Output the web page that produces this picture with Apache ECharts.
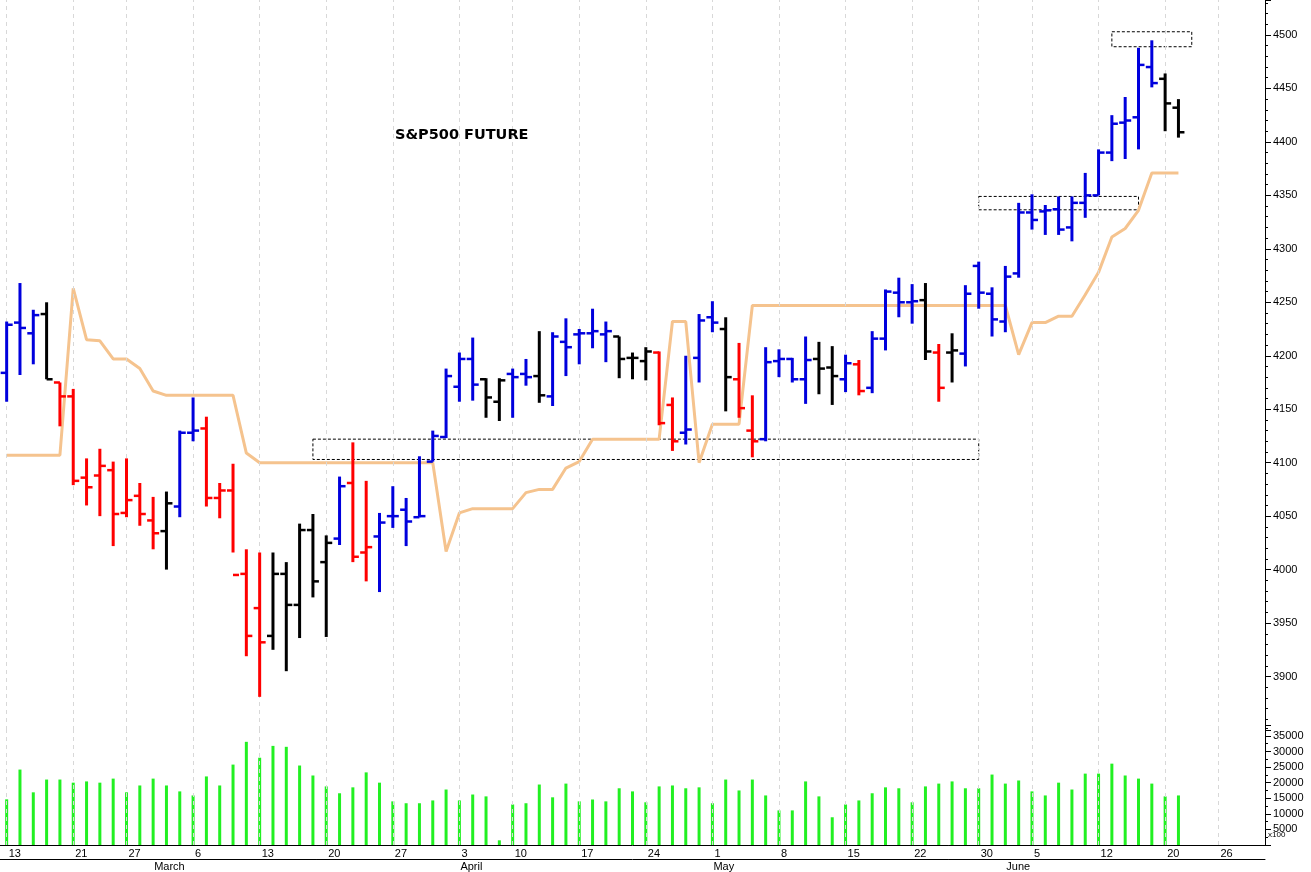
<!DOCTYPE html>
<html><head><meta charset="utf-8">
<script src="https://cdn.jsdelivr.net/npm/echarts@6/dist/echarts.min.js"></script>
<style>html,body{margin:0;padding:0;background:#fff}#c{width:1311px;height:872px}</style>
</head><body><div id="c"></div>
<script>
const dates = ['02-13','02-14','02-15','02-16','02-17','02-21','02-22','02-23','02-24',
'02-27','02-28','03-01','03-02','03-03','03-06','03-07','03-08','03-09','03-10',
'03-13','03-14','03-15','03-16','03-17','03-20','03-21','03-22','03-23','03-24',
'03-27','03-28','03-29','03-30','03-31','04-03','04-04','04-05','04-06',
'04-10','04-11','04-12','04-13','04-14','04-17','04-18','04-19','04-20','04-21',
'04-24','04-25','04-26','04-27','04-28','05-01','05-02','05-03','05-04','05-05',
'05-08','05-09','05-10','05-11','05-12','05-15','05-16','05-17','05-18','05-19',
'05-22','05-23','05-24','05-25','05-26','05-30','05-31','06-01','06-02',
'06-05','06-06','06-07','06-08','06-09','06-12','06-13','06-14','06-15','06-16',
'06-20','06-21','06-22','06-23','06-26','06-27','06-28','06-29'];
const dayLabels = {'02-13':'13','02-21':'21','02-27':'27','03-06':'6','03-13':'13','03-20':'20','03-27':'27',
'04-03':'3','04-10':'10','04-17':'17','04-24':'24','05-01':'1','05-08':'8','05-15':'15','05-22':'22',
'05-30':'30','06-05':'5','06-12':'12','06-20':'20','06-26':'26'};
const monthLabels = {'03-01':'March','04-03':'April','05-01':'May','06-01':'June'};
const opens  = [4184,4231,4221,4239,4175,4162,4086,4088,4093,4053,4069,4046,4036,4059,4128,4132,4067,4074,3996,3964,3938,3996,3967,4037,4007,4029,4081,4016,4031,4050,4056,4049,4101,4124,4171,4197,4178,4157,4183,4183,4181,4162,4213,4220,4221,4220,4218,4198,4195,4203,4154,4128,4198,4236,4225,4178,4130,4122,4195,4197,4178,4197,4189,4178,4192,4170,4216,4259,4250,4252,4203,4203,4202,4284,4258,4232,4277,4334,4335,4337,4320,4343,4350,4390,4418,4423,4470,4459,4432];
const highs  = [4232,4268,4243,4250,4175,4169,4104,4113,4101,4104,4081,4068,4073,4130,4161,4143,4081,4099,4019,4016,4016,4007,4043,4052,4032,4087,4119,4083,4053,4078,4067,4106,4130,4188,4203,4217,4179,4179,4188,4197,4223,4222,4235,4225,4244,4232,4218,4203,4208,4204,4161,4200,4239,4251,4236,4212,4163,4208,4206,4198,4218,4213,4209,4201,4196,4223,4262,4273,4267,4268,4211,4221,4266,4288,4264,4284,4343,4351,4341,4349,4349,4371,4393,4425,4442,4488,4495,4464,4440];
const lows   = [4157,4182,4192,4178,4134,4079,4060,4050,4022,4049,4041,4019,4000,4049,4120,4059,4048,4016,3919,3881,3925,3905,3936,3974,3937,4023,4007,3989,3979,4039,4022,4049,4101,4123,4157,4158,4142,4139,4142,4172,4156,4153,4181,4192,4207,4194,4179,4178,4177,4135,4111,4117,4175,4222,4148,4142,4105,4120,4180,4175,4155,4164,4154,4166,4163,4165,4205,4236,4230,4196,4157,4175,4190,4244,4218,4222,4273,4318,4313,4313,4307,4329,4350,4382,4384,4393,4451,4410,4404];
const closes = [4229,4226,4238,4178,4162,4083,4077,4097,4052,4065,4052,4034,4062,4128,4130,4067,4074,3995,3938,3932,3996,3967,4037,3989,4025,4078,4012,4021,4044,4050,4045,4050,4125,4181,4197,4173,4161,4177,4180,4180,4163,4218,4208,4221,4223,4223,4197,4198,4204,4137,4120,4131,4233,4231,4180,4151,4120,4194,4197,4178,4196,4188,4181,4193,4167,4216,4260,4250,4251,4204,4170,4205,4258,4259,4234,4274,4334,4327,4336,4318,4343,4350,4390,4417,4420,4472,4455,4436,4409];
const barColors = ['B','B','B','K','R','R','R','R','R','R','R','R','K','B','B','R','R','R','R','R','K','K','K','K','K',
'B','R','R','B','B','B','B','B','B','B','B','K','K','B','B','K','B','B','B','B','B','K','K','K','R',
'R','B','B','B','K','R','R','B','B','B','B','K','K','B','R','B','B','B','B','K','R','K',
'B','B','B','B','B','B','B','B','B','B','B','B','B','B','B','K','K'];
const stopLine = [4107,4107,4107,4107,4107,4263,4215,4214,4197,4197,4188,4167,4163,4163,4163,4163,4163,4163,4109,4100,4100,4100,4100,4100,4100,4100,4100,4100,4100,4100,4100,4100,4100,4017,4053,4057,4057,4057,4057,4072,4075,4075,4095,4101,4122,4122,4122,4122,4122,4122,4232,4232,4100,4136,4136,4136,4247,4247,4247,4247,4247,4247,4247,4247,4247,4247,4247,4247,4247,4247,4247,4247,4247,4247,4247,4247,4201,4231,4231,4237,4237,4257,4278,4311,4319,4336,4371,4371,4371];
const volumes = [14650,24200,16900,21000,21000,20000,20400,20000,21300,16900,19100,21300,19100,17200,15900,22000,19100,25800,33100,28000,31800,31500,25500,22300,18800,16600,18500,23300,20000,14000,13400,13400,14300,17800,14300,16200,15600,1500,13000,13400,19400,15300,19700,14000,14600,14000,18200,17200,13700,18800,19100,18200,18500,13400,21000,17500,21000,15900,11100,11100,20400,15600,8900,13000,14300,16600,18500,18200,13700,18800,19700,20400,18200,18200,22600,19700,20700,17200,15900,20000,17800,22900,22900,26100,22300,21300,19700,15600,15900];
const boxes = [[23,73,4103,4122],[73,85,4336.5,4349],[83,89,4489,4503]];
const priceTicks = [3900,3950,4000,4050,4100,4150,4200,4250,4300,4350,4400,4450,4500];
const volTicks = [5000,10000,15000,20000,25000,30000,35000];

const colorMap = {B:'#0000dd',R:'#ff0000',K:'#000000'};
const ohlc = opens.map((o,i)=>[i,o,highs[i],lows[i],closes[i]]);
const weekLines = dates.filter(d=>dayLabels[d]).map(d=>({xAxis:d}));
const lbl = {fontFamily:'Liberation Sans, Arial, sans-serif',fontSize:11,color:'#000'};
const gridLine = {silent:true,symbol:'none',label:{show:false},lineStyle:{color:'#d8d8d8',type:[4,4],width:1},data:weekLines};

const chart = echarts.init(document.getElementById('c'));
chart.setOption({
  animation:false,
  backgroundColor:'#fff',
  title:{text:'S&P500 FUTURE',left:390,top:123,textStyle:{fontFamily:'DejaVu Sans',fontWeight:'bold',fontSize:14.5,color:'#000'}},
  grid:[{left:0,right:46,top:0,height:730},{left:0,right:46,top:725,bottom:27}],
  xAxis:[
    {type:'category',gridIndex:0,data:dates,boundaryGap:true,axisLine:{show:false},axisTick:{show:false},axisLabel:{show:false},splitLine:{show:false}},
    {type:'category',gridIndex:1,data:dates,boundaryGap:true,position:'bottom',
     axisLine:{lineStyle:{color:'#000'}},
     axisTick:{alignWithLabel:true,length:12,lineStyle:{color:'#000'},interval:(i,v)=>!!dayLabels[v]},
     axisLabel:Object.assign({},lbl,{align:'left',margin:3,padding:[0,0,0,2],interval:(i,v)=>!!dayLabels[v],formatter:v=>dayLabels[v]||''})},
    {type:'category',gridIndex:1,data:dates,boundaryGap:true,position:'bottom',offset:14,
     axisLine:{lineStyle:{color:'#000'}},
     axisTick:{alignWithLabel:true,length:14,lineStyle:{color:'#000'},interval:(i,v)=>!!monthLabels[v]},
     axisLabel:Object.assign({},lbl,{align:'left',margin:2,padding:[0,0,0,1],interval:(i,v)=>!!monthLabels[v],formatter:v=>monthLabels[v]||''})}
  ],
  yAxis:[
    {type:'value',gridIndex:0,position:'right',min:3850,max:4532.7,interval:50,
     axisLine:{show:true,lineStyle:{color:'#000'}},axisTick:{show:true,length:6,lineStyle:{color:'#000'}},
     minorTick:{show:true,splitNumber:5,length:3,lineStyle:{color:'#000'}},splitLine:{show:false},
     axisLabel:Object.assign({},lbl,{margin:8,formatter:v=>priceTicks.includes(v)?String(v):''})},
    {type:'value',gridIndex:1,position:'right',min:0,max:38500,interval:5000,
     axisLine:{show:true,lineStyle:{color:'#000'}},axisTick:{show:true,length:6,lineStyle:{color:'#000'}},
     minorTick:{show:true,splitNumber:2,length:3,lineStyle:{color:'#000'}},splitLine:{show:false},
     axisLabel:Object.assign({},lbl,{margin:8,formatter:v=>volTicks.includes(v)?String(v):''})}
  ],
  series:[
    {type:'line',xAxisIndex:0,yAxisIndex:0,data:[],z:0,markLine:gridLine},
    {type:'line',xAxisIndex:1,yAxisIndex:1,data:[],z:0,markLine:gridLine},
    {type:'line',xAxisIndex:0,yAxisIndex:0,data:stopLine,showSymbol:false,symbol:'none',
     lineStyle:{color:'#f5c38e',width:3},z:2},
    {type:'custom',xAxisIndex:0,yAxisIndex:0,data:ohlc,encode:{x:0,y:[1,2,3,4]},z:5,
     renderItem:(params,api)=>{
       const i=api.value(0);
       const x=api.coord([i,api.value(2)])[0];
       const yH=api.coord([i,api.value(2)])[1],yL=api.coord([i,api.value(3)])[1];
       const yO=api.coord([i,api.value(1)])[1],yC=api.coord([i,api.value(4)])[1];
       const c=colorMap[barColors[i]];
       return {type:'group',children:[
         {type:'line',shape:{x1:x,y1:yH,x2:x,y2:yL},style:{stroke:c,lineWidth:3}},
         {type:'line',shape:{x1:x-6,y1:yO,x2:x,y2:yO},style:{stroke:c,lineWidth:2.5}},
         {type:'line',shape:{x1:x,y1:yC,x2:x+6,y2:yC},style:{stroke:c,lineWidth:2.5}}
       ]};
     },
     markArea:{silent:true,itemStyle:{color:'rgba(0,0,0,0)',borderColor:'#000',borderWidth:1,borderType:[3,2]},
       data:boxes.map(b=>[{coord:[dates[b[0]],b[3]]},{coord:[dates[b[1]],b[2]]}])}
    },
    {type:'bar',xAxisIndex:1,yAxisIndex:1,data:volumes,barWidth:3,itemStyle:{color:'#22f022'},z:3}
  ],
  graphic:[{type:'text',left:1268,top:831,style:{text:'x100',fontSize:8,fill:'#000',fontFamily:'Liberation Sans'}}]
});
</script></body></html>
